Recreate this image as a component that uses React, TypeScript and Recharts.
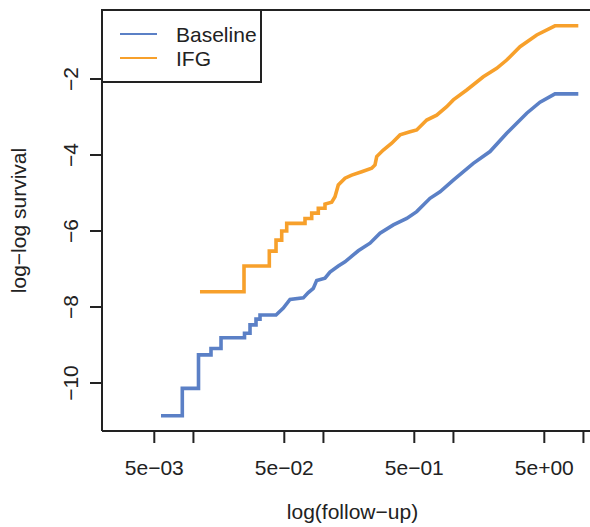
import React from 'react';
import { LineChart, Line, XAxis, YAxis, ReferenceLine, Legend } from 'recharts';

// follow-up time (x) and log-log survival (y), vertices
const baselineTime = [
  0.00563, 0.00821, 0.00821, 0.01094, 0.01094, 0.01365, 0.01365, 0.0163, 0.0163, 0.02471,
  0.02471, 0.02724, 0.02724, 0.03029, 0.03029, 0.03252, 0.03252, 0.04318, 0.04913, 0.05532,
  0.07, 0.07648, 0.08357, 0.08876, 0.1028, 0.1123, 0.1301, 0.1465, 0.1854, 0.2282,
  0.2724, 0.3448, 0.4372, 0.5218, 0.6603, 0.7884, 0.9977, 1.422, 1.911, 2.569,
  3.662, 4.634, 6.042, 9.131,
];
const baselineValue = [
  -10.86, -10.86, -10.14, -10.14, -9.26, -9.26, -9.09, -9.09, -8.81, -8.81,
  -8.69, -8.69, -8.47, -8.47, -8.32, -8.32, -8.21, -8.21, -8.03, -7.8,
  -7.76, -7.62, -7.51, -7.3, -7.24, -7.08, -6.92, -6.81, -6.52, -6.32,
  -6.06, -5.84, -5.67, -5.49, -5.14, -4.97, -4.66, -4.22, -3.91, -3.43,
  -2.9, -2.61, -2.39, -2.39,
];

const ifgTime = [
  0.01123, 0.02449, 0.02449, 0.03834, 0.03834, 0.04318, 0.04318, 0.04775, 0.04775, 0.05218,
  0.05218, 0.07215, 0.07215, 0.08124, 0.08124, 0.09131, 0.09131, 0.1028, 0.1028, 0.1158,
  0.1227, 0.1301, 0.1465, 0.165, 0.197, 0.2351, 0.2493, 0.2569, 0.2887, 0.3352,
  0.3882, 0.4634, 0.5218, 0.6229, 0.7434, 0.8876, 0.9977, 1.265, 1.697, 2.152,
  2.569, 3.252, 4.372, 6.042, 9.131,
];
const ifgValue = [
  -7.6, -7.6, -6.92, -6.92, -6.53, -6.53, -6.24, -6.24, -6.0, -6.0,
  -5.8, -5.8, -5.67, -5.67, -5.53, -5.53, -5.4, -5.4, -5.29, -5.24,
  -5.1, -4.79, -4.61, -4.53, -4.44, -4.35, -4.26, -4.04, -3.87, -3.69,
  -3.47, -3.39, -3.34, -3.08, -2.95, -2.73, -2.55, -2.29, -1.94, -1.72,
  -1.5, -1.15, -0.84, -0.6, -0.6,
];

const xTicks = [0.005, 0.01, 0.05, 0.1, 0.5, 1, 5, 10];
const xTickLabels = ['5e\u221203', '', '5e\u221202', '', '5e\u221201', '', '5e+00', ''];
const yTicks = [-10, -8, -6, -4, -2];

const seriesNames = ['Baseline', 'IFG'];
const seriesColors = ['#5b80c6', '#f7a02b'];

const X_DOMAIN = [0.00198, 14.14];
const Y_DOMAIN = [-11.263, -0.184];
const INK = '#222222';
const FONT = '"Liberation Sans", Arial, Helvetica, sans-serif';

const baselineData = baselineTime.map((t, i) => ({ t, v: baselineValue[i] }));
const ifgData = ifgTime.map((t, i) => ({ t, v: ifgValue[i] }));

const XTick = (props: any) => {
  const { x, payload } = props;
  const idx = xTicks.indexOf(payload.value);
  const text = idx >= 0 ? xTickLabels[idx] : '';
  if (!text) return null;
  return (
    <text x={x} y={475} textAnchor="middle" fontSize={21} fill={INK} fontFamily={FONT}>
      {text}
    </text>
  );
};

const YTick = (props: any) => {
  const { y, payload } = props;
  const lx = 78;
  return (
    <text
      x={lx}
      y={y}
      transform={`rotate(-90, ${lx}, ${y})`}
      textAnchor="middle"
      fontSize={21}
      fill={INK}
      fontFamily={FONT}
    >
      {String(payload.value).replace('-', '\u2212')}
    </text>
  );
};

const XTitle = (props: any) => {
  const vb = props.viewBox;
  return (
    <text x={vb.x + vb.width / 2} y={519} textAnchor="middle" fontSize={21} fill={INK} fontFamily={FONT}>
      log(follow{'\u2212'}up)
    </text>
  );
};

const YTitle = (props: any) => {
  const vb = props.viewBox;
  const cx = 26;
  const cy = vb.y + vb.height / 2;
  return (
    <text
      x={cx}
      y={cy}
      transform={`rotate(-90, ${cx}, ${cy})`}
      textAnchor="middle"
      fontSize={21}
      fill={INK}
      fontFamily={FONT}
    >
      log{'\u2212'}log survival
    </text>
  );
};

const LegendBox = () => (
  <svg width={161} height={74} style={{ display: 'block' }}>
    <rect x={1} y={1} width={159} height={72} fill="#ffffff" stroke={INK} strokeWidth={2} />
    {seriesNames.map((name, i) => (
      <g key={name}>
        <line x1={19} x2={56} y1={25 + i * 24} y2={25 + i * 24} stroke={seriesColors[i]} strokeWidth={2} />
        <text x={75} y={33 + i * 24} fontSize={21} fill={INK} fontFamily={FONT}>
          {name}
        </text>
      </g>
    ))}
  </svg>
);

export default function App() {
  return (
    <div
      style={{
        position: 'absolute',
        left: 0,
        top: 0,
        width: 590,
        height: 527,
        overflow: 'hidden',
        background: '#ffffff',
        fontFamily: FONT,
      }}
    >
      <LineChart width={620} height={527} margin={{ top: 10, right: 17, bottom: 0, left: 0 }}>
        <XAxis
          dataKey="t"
          type="number"
          scale="log"
          domain={X_DOMAIN}
          allowDataOverflow
          ticks={xTicks}
          tick={<XTick />}
          tickSize={12}
          height={96}
          stroke={INK}
          strokeWidth={2}
          tickLine={{ stroke: INK, strokeWidth: 2 }}
          axisLine={{ stroke: INK, strokeWidth: 2 }}
          label={<XTitle />}
        />
        <YAxis
          dataKey="v"
          type="number"
          domain={Y_DOMAIN}
          allowDataOverflow
          ticks={yTicks}
          tick={<YTick />}
          tickSize={12}
          width={102}
          stroke={INK}
          tickLine={{ stroke: INK, strokeWidth: 2 }}
          axisLine={{ stroke: INK, strokeWidth: 2 }}
          label={<YTitle />}
        />
        <ReferenceLine y={Y_DOMAIN[1]} stroke={INK} strokeWidth={2} ifOverflow="visible" />
        <Line
          data={baselineData}
          dataKey="v"
          name={seriesNames[0]}
          type="linear"
          stroke={seriesColors[0]}
          strokeWidth={3.6}
          dot={false}
          activeDot={false}
          isAnimationActive={false}
        />
        <Line
          data={ifgData}
          dataKey="v"
          name={seriesNames[1]}
          type="linear"
          stroke={seriesColors[1]}
          strokeWidth={3.6}
          dot={false}
          activeDot={false}
          isAnimationActive={false}
        />
        <Legend
          layout="vertical"
          align="center"
          verticalAlign="middle"
          wrapperStyle={{ left: 101, top: 9, width: 161, height: 74 }}
          content={() => <LegendBox />}
        />
      </LineChart>
    </div>
  );
}
